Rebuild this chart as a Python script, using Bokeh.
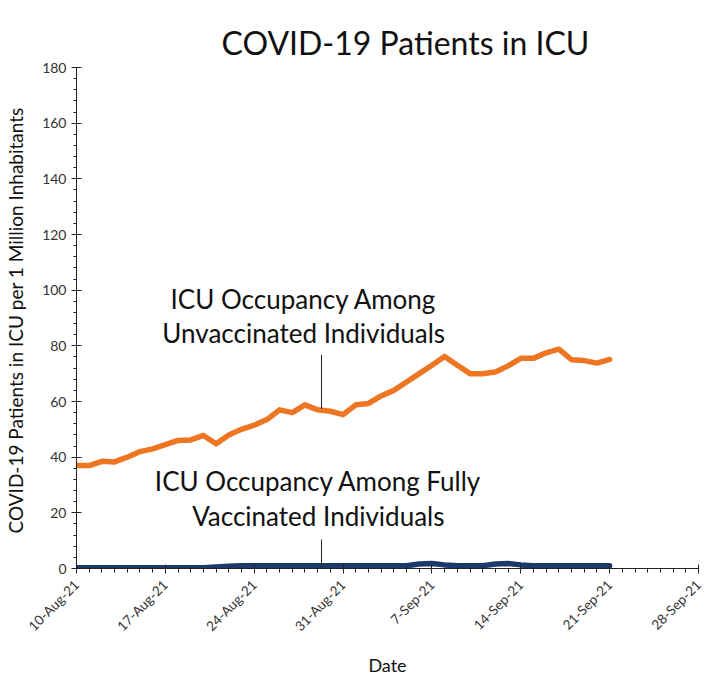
import math
from datetime import datetime, timedelta
from bokeh.plotting import figure
from bokeh.models import (DatetimeTickFormatter, FixedTicker, Range1d, Label,
                          ColumnDataSource)
from bokeh.embed import file_html
from bokeh.resources import INLINE

# ---- data ----
start_date = "2021-08-10"
n_days = 43
unvaccinated = [37, 37, 38.5, 38.3, 40, 42, 43, 44.5, 46, 46.2,
                47.8, 44.8, 48, 50, 51.5, 53.5, 57, 56, 58.8, 57,
                56.5, 55.3, 58.8, 59.3, 62, 64, 67, 70, 73, 76.2,
                73, 70, 70, 70.6, 72.8, 75.5, 75.5, 77.5, 78.8, 75,
                74.7, 73.8, 75.1]
vaccinated = [0.3, 0.3, 0.3, 0.3, 0.3, 0.3, 0.3, 0.3, 0.3, 0.3,
              0.3, 0.5, 0.8, 1.0, 1.0, 1.0, 1.0, 1.0, 1.0, 1.0,
              1.0, 1.0, 1.0, 1.0, 1.0, 1.0, 1.0, 1.6, 1.8, 1.3,
              1.0, 1.0, 1.0, 1.6, 1.8, 1.3, 1.0, 1.0, 1.0, 1.0,
              1.0, 1.0, 1.0]
tick_dates = ["2021-08-10", "2021-08-17", "2021-08-24", "2021-08-31",
              "2021-09-07", "2021-09-14", "2021-09-21", "2021-09-28"]
y_ticks = [0, 20, 40, 60, 80, 100, 120, 140, 160, 180]

title_text = "COVID-19 Patients in ICU"
unvacc_label = ["ICU Occupancy Among", "Unvaccinated Individuals"]
vacc_label = ["ICU Occupancy Among Fully", "Vaccinated Individuals"]
# annotation anchors (day offset from start, value)
unvacc_label_pos = (17.9, [96.8, 84.5])
vacc_label_pos = (19.05, [31.3, 18.7])
leader_x = 19.3
unvacc_leader = (57.3, 76.8)
vacc_leader = (0.5, 10.4)

# ---- build ----
d0 = datetime.fromisoformat(start_date)
dates = [d0 + timedelta(days=i) for i in range(n_days)]
ticks_dt = [datetime.fromisoformat(t) for t in tick_dates]
to_ms = lambda d: (d - datetime(1970, 1, 1)).total_seconds() * 1000.0
day_ms = 86400000.0
tick_ms = [to_ms(t) for t in ticks_dt]
minor_ms = [to_ms(d0) + i * day_ms for i in range(0, 50)]

FONT = "Lato"

p = figure(width=704, height=680, x_axis_type="datetime",
           output_backend="svg", toolbar_location=None,
           x_range=Range1d(tick_ms[0], tick_ms[-1]),
           y_range=Range1d(0, 180),
           min_border_left=76, min_border_right=6,
           min_border_top=67, min_border_bottom=112)
p.title.text = title_text
p.title.align = "left"
p.title.offset = 145
p.title.standoff = 11
p.title.text_font = FONT
p.title.text_font_size = "32px"
p.title.text_font_style = "normal"
p.title.text_color = "#111111"
p.outline_line_color = None
p.xgrid.visible = False
p.ygrid.visible = False
p.background_fill_color = "white"
p.border_fill_color = "white"

src = ColumnDataSource(dict(x=dates, u=unvaccinated, v=vaccinated))
p.line("x", "u", source=src, line_color="#EE7623", line_width=5.5,
       line_join="round", line_cap="round")
p.line("x", "v", source=src, line_color="#1B3A6B", line_width=5.5,
       line_join="round", line_cap="round")

lx = to_ms(d0) + leader_x * day_ms
p.segment(x0=[lx, lx], y0=[unvacc_leader[0], vacc_leader[0]],
          x1=[lx, lx], y1=[unvacc_leader[1], vacc_leader[1]],
          line_color="#222222", line_width=1)

for (dx, ys), lines in ((unvacc_label_pos, unvacc_label), (vacc_label_pos, vacc_label)):
    for yv, t in zip(ys, lines):
        p.add_layout(Label(x=to_ms(d0) + dx * day_ms, y=yv, text=t,
                           text_align="center", text_baseline="middle",
                           text_font=FONT, text_font_size="26px",
                           text_color="#111111"))

xa = p.xaxis[0]
xa.ticker = FixedTicker(ticks=tick_ms, minor_ticks=minor_ms)
xa.formatter = DatetimeTickFormatter(days="%-d-%b-%y", months="%-d-%b-%y")
xa.major_label_orientation = math.pi / 4
xa.major_label_text_font = FONT
xa.major_label_text_font_size = "13.5px"
xa.major_label_text_color = "#333333"
xa.major_label_standoff = 9
xa.axis_label = "Date"
xa.axis_label_text_font = FONT
xa.axis_label_text_font_size = "18px"
xa.axis_label_text_font_style = "normal"
xa.axis_label_text_color = "#111111"
xa.axis_label_standoff = 11
xa.axis_line_color = "#222222"
xa.major_tick_line_color = "#222222"
xa.minor_tick_line_color = "#222222"
xa.major_tick_in = 4
xa.major_tick_out = 5
xa.minor_tick_in = 0
xa.minor_tick_out = 4

ya = p.yaxis[0]
ya.ticker = FixedTicker(ticks=y_ticks, minor_ticks=list(range(0, 181, 4)))
ya.major_label_text_font = FONT
ya.major_label_text_font_size = "14px"
ya.major_label_text_color = "#333333"
ya.axis_label = "COVID-19 Patients in ICU  per 1 Million Inhabitants"
ya.axis_label_text_font = FONT
ya.axis_label_text_font_size = "19px"
ya.axis_label_text_font_style = "normal"
ya.axis_label_text_color = "#111111"
ya.axis_label_standoff = 12
ya.axis_line_color = "#222222"
ya.major_tick_line_color = "#222222"
ya.minor_tick_line_color = "#222222"
ya.major_tick_in = 5
ya.major_tick_out = 5
ya.minor_tick_in = 0
ya.minor_tick_out = 3

open("out.html", "w").write(file_html(p, INLINE))
